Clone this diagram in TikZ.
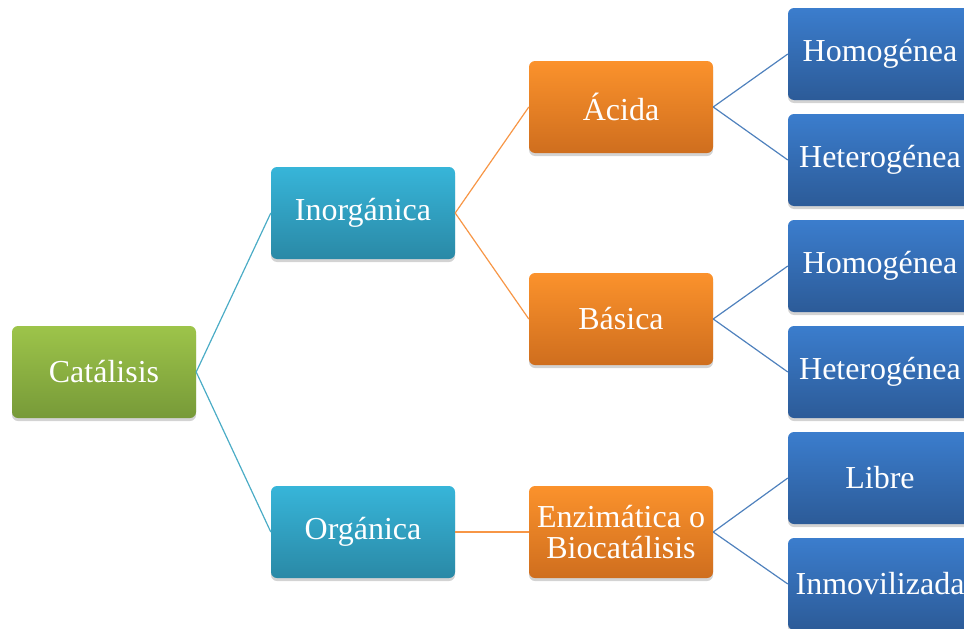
\documentclass[tikz,border=0pt]{standalone}
\usepackage{fontspec}
\setmainfont{Liberation Serif}
\usepackage{xcolor}
\usetikzlibrary{shadows, positioning}

\definecolor{verdeA}{HTML}{9DC44A}
\definecolor{verdeB}{HTML}{779A38}
\definecolor{turqA}{HTML}{37B5D9}
\definecolor{turqB}{HTML}{2A89A6}
\definecolor{naranjaA}{HTML}{FB922C}
\definecolor{naranjaB}{HTML}{CF6E1E}
\definecolor{azulA}{HTML}{3B7DCD}
\definecolor{azulB}{HTML}{2C5B98}
\definecolor{lineaTurq}{HTML}{4BACC6}
\definecolor{lineaNaranja}{HTML}{F79646}
\definecolor{lineaAzul}{HTML}{4F81BD}

\tikzset{
	caja/.style = {rounded corners = 6pt, minimum width = 184pt, minimum height = 92pt,
		text = white, align = center, inner sep = 2pt,
		font = \fontsize{32}{31}\selectfont,
		drop shadow = {opacity = 0.35, shadow xshift = 0pt, shadow yshift = -3pt}},
	verde/.style = {caja, top color = verdeA, bottom color = verdeB},
	turq/.style = {caja, top color = turqA, bottom color = turqB},
	naranja/.style = {caja, top color = naranjaA, bottom color = naranjaB},
	azul/.style = {caja, top color = azulA, bottom color = azulB},
	rama/.style = {line width = 1.2pt}
}

\begin{document}
\begin{tikzpicture}[x = 1pt, y = -1pt]
		\useasboundingbox (0, 0) rectangle (964, 629);
		\clip (0, 0) rectangle (964, 629);

		% raiz y primer nivel
		\node [verde] (cat) at (104, 372) {Catálisis};
		\node [turq] (inorg) at (363, 213) {Inorgánica};
		\node [turq] (org) at (363, 532) {Orgánica};

		% segundo nivel
		\node [naranja] (acida) at (621, 107) {Ácida};
		\node [naranja] (basica) at (621, 319) {Básica};
		\node [naranja] (enzim) at (621, 532) {Enzimática o\\Biocatálisis};

		% tercer nivel
		\node [azul] (hom1) at (880, 54) {Homogénea};
		\node [azul] (het1) at (880, 160) {Heterogénea};
		\node [azul] (hom2) at (880, 266) {Homogénea};
		\node [azul] (het2) at (880, 372) {Heterogénea};
		\node [azul] (libre) at (880, 478) {Libre};
		\node [azul] (inmov) at (880, 584) {Inmovilizada};

		\draw [rama, lineaTurq] (cat.east) -- (inorg.west);
		\draw [rama, lineaTurq] (cat.east) -- (org.west);

		\draw [rama, lineaNaranja] (inorg.east) -- (acida.west);
		\draw [rama, lineaNaranja] (inorg.east) -- (basica.west);
		\draw [rama, lineaNaranja] (org.east) -- (enzim.west);

		\draw [rama, lineaAzul] (acida.east) -- (hom1.west);
		\draw [rama, lineaAzul] (acida.east) -- (het1.west);
		\draw [rama, lineaAzul] (basica.east) -- (hom2.west);
		\draw [rama, lineaAzul] (basica.east) -- (het2.west);
		\draw [rama, lineaAzul] (enzim.east) -- (libre.west);
		\draw [rama, lineaAzul] (enzim.east) -- (inmov.west);
	\end{tikzpicture}
\end{document}
